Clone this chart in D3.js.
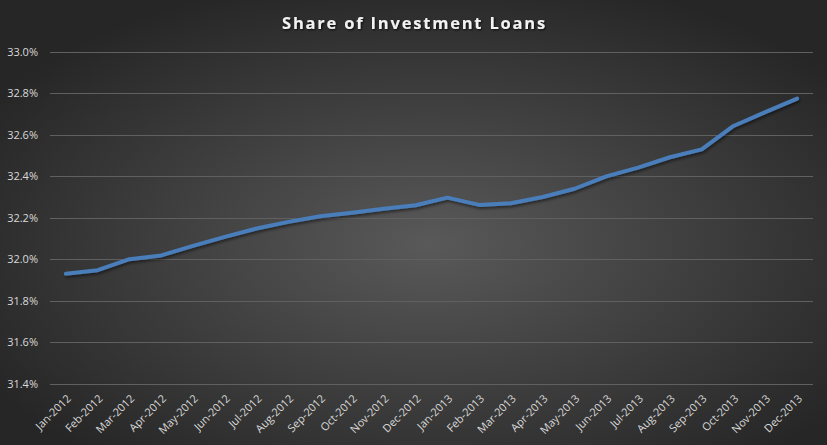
<!DOCTYPE html>
<html><head><meta charset="utf-8">
<script src="https://cdn.jsdelivr.net/npm/d3@7"></script>
<style>html,body{margin:0;padding:0;background:#2a2a2a;}svg{display:block;}</style>
</head><body>
<script>
const months = ["Jan-2012","Feb-2012","Mar-2012","Apr-2012","May-2012","Jun-2012","Jul-2012","Aug-2012","Sep-2012","Oct-2012","Nov-2012","Dec-2012",
"Jan-2013","Feb-2013","Mar-2013","Apr-2013","May-2013","Jun-2013","Jul-2013","Aug-2013","Sep-2013","Oct-2013","Nov-2013","Dec-2013"];
const shares = [31.93,31.947,32.0,32.018,32.064,32.108,32.148,32.18,32.207,32.224,32.243,32.26,
32.297,32.262,32.27,32.30,32.34,32.40,32.442,32.492,32.53,32.643,32.71,32.775];
const yTicks = [31.4,31.6,31.8,32.0,32.2,32.4,32.6,32.8,33.0];
const title = "Share of Investment Loans";

const W=827,H=445, m={l:50,r:14,t:52,b:62};
const svg=d3.select("body").append("svg").attr("width",W).attr("height",H);
const defs=svg.append("defs");
const rg=defs.append("radialGradient").attr("id","bg").attr("cx","52%").attr("cy","55%").attr("r","62%");
rg.append("stop").attr("offset","0%").attr("stop-color","#595959");
rg.append("stop").attr("offset","100%").attr("stop-color","#262626");
const f=defs.append("filter").attr("id","sh").attr("x","-10%").attr("y","-10%").attr("width","120%").attr("height","130%");
f.append("feDropShadow").attr("dx",1).attr("dy",2).attr("stdDeviation",1.5).attr("flood-color","#000").attr("flood-opacity",0.5);
const ft=defs.append("filter").attr("id","tsh");
ft.append("feDropShadow").attr("dx",1).attr("dy",1).attr("stdDeviation",0.8).attr("flood-color","#000").attr("flood-opacity",0.8);

svg.append("rect").attr("width",W).attr("height",H).attr("fill","url(#bg)");

const x=d3.scaleBand().domain(months).range([m.l,W-m.r]);
const y=d3.scaleLinear().domain([31.4,33.0]).range([383.5,52]);

const g=svg.append("g");
g.selectAll("line.grid").data(yTicks).join("line").attr("class","grid")
 .attr("x1",m.l).attr("x2",W-m.r).attr("y1",d=>Math.round(y(d))+0.5).attr("y2",d=>Math.round(y(d))+0.5)
 .attr("stroke","#606060").attr("stroke-width",1);

const yAxis=svg.append("g").attr("transform",`translate(${m.l},0)`)
 .call(d3.axisLeft(y).tickValues(yTicks).tickFormat(d=>d.toFixed(1)+"%").tickSize(0).tickPadding(12));
yAxis.select(".domain").remove();
yAxis.selectAll("text").attr("fill","#d9d9d9").style("font-family","'Open Sans', sans-serif").style("font-size","11px");

const xAxis=svg.append("g").attr("transform",`translate(0,${y(31.4)})`)
 .call(d3.axisBottom(x).tickSize(0).tickPadding(0));
xAxis.select(".domain").remove();
xAxis.selectAll("text").attr("fill","#d9d9d9").style("font-family","'Open Sans', sans-serif").style("font-size","11px")
 .attr("text-anchor","end").attr("dy","0.35em").attr("transform","translate(3,13) rotate(-45)");

const line=d3.line().x((d,i)=>x(months[i])+x.bandwidth()/2).y(d=>y(d));
svg.append("path").datum(shares).attr("d",line).attr("fill","none").attr("stroke","#4a7ebb")
 .attr("stroke-width",4).attr("stroke-linejoin","round").attr("stroke-linecap","round").attr("filter","url(#sh)");

svg.append("text").attr("x",W/2+1).attr("y",29).attr("text-anchor","middle")
 .attr("fill","#f2f2f2").style("font-family","'Open Sans', sans-serif").style("font-weight","bold")
 .style("font-size","16.5px").style("letter-spacing","1.8px").attr("filter","url(#tsh)").text(title);
</script>
</body></html>
